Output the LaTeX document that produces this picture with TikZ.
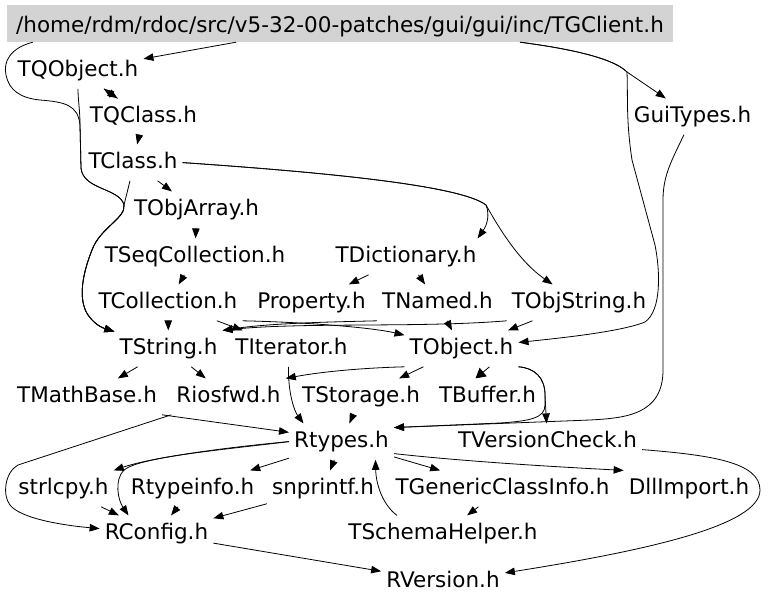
\documentclass[tikz,border=0pt]{standalone}
\usepackage{fontspec}
\setmainfont{DejaVu Sans}
\usetikzlibrary{arrows.meta}
\definecolor{rootgray}{RGB}{211,211,211}

\begin{document}
\begin{tikzpicture}[x=1pt, y=1pt,
		hfile/.style={font=\fontsize{21.5pt}{25pt}\selectfont, inner xsep=5pt, inner ysep=8pt, text height=15.5pt, text depth=4.5pt},
		dep/.style={draw, line width=0.8pt, -{Triangle[length=10pt, width=7.5pt]}}]
		\useasboundingbox (0,0) rectangle (768,-603);
		% the file itself
		\node[hfile, fill=rootgray, inner sep=0pt, minimum width=666pt, text height=27pt, text depth=10pt] (root) at(340, -23.5) {/home/rdm/rdoc/src/v5-32-00-patches/gui/gui/inc/TGClient.h};
		
		\node[hfile] (tqobject) at(78, -70.6) {TQObject.h};
		\node[hfile] (tqclass) at(143.5, -116.6) {TQClass.h};
		\node[hfile] (guitypes) at(692.5, -116.6) {GuiTypes.h};
		\node[hfile] (tclass) at(133, -162.6) {TClass.h};
		\node[hfile] (tobjarray) at(196.5, -209.6) {TObjArray.h};
		\node[hfile] (tseqcollection) at(195, -256.6) {TSeqCollection.h};
		\node[hfile] (tdictionary) at(406, -256.6) {TDictionary.h};
		\node[hfile] (tcollection) at(168, -302.6) {TCollection.h};
		\node[hfile] (property) at(311.5, -302.6) {Property.h};
		\node[hfile] (tnamed) at(437.5, -302.6) {TNamed.h};
		\node[hfile] (tobjstring) at(579, -302.6) {TObjString.h};
		\node[hfile] (tstring) at(168.5, -348.6) {TString.h};
		\node[hfile] (titerator) at(291.5, -348.6) {TIterator.h};
		\node[hfile] (tobject) at(461.5, -348.6) {TObject.h};
		\node[hfile] (tmathbase) at(87, -396.6) {TMathBase.h};
		\node[hfile] (riosfwd) at(228.5, -396.6) {Riosfwd.h};
		\node[hfile] (tstorage) at(361, -396.6) {TStorage.h};
		\node[hfile] (tbuffer) at(487.5, -396.6) {TBuffer.h};
		\node[hfile] (rtypes) at(341.5, -441.6) {Rtypes.h};
		\node[hfile] (tversioncheck) at(547.5, -441.6) {TVersionCheck.h};
		\node[hfile] (strlcpy) at(63.5, -488.6) {strlcpy.h};
		\node[hfile] (rtypeinfo) at(192.5, -488.6) {Rtypeinfo.h};
		\node[hfile] (snprintf) at(323, -488.6) {snprintf.h};
		\node[hfile] (tgenericclassinfo) at(502.5, -488.6) {TGenericClassInfo.h};
		\node[hfile] (dllimport) at(689, -488.6) {DllImport.h};
		\node[hfile] (rconfig) at(156.5, -533.6) {RConfig.h};
		\node[hfile] (tschemahelper) at(443, -533.6) {TSchemaHelper.h};
		\node[hfile] (rversion) at(443, -581.6) {RVersion.h};
		
		% includes of the file itself
		\draw[dep] (root) -- (tqobject);
		\draw[dep] ([xshift=180pt]root.south) .. controls (580,-50) and (615,-60) .. (627,-72) -- (guitypes);
		\draw[dep] ([xshift=180pt]root.south) .. controls (580,-50) and (615,-60) .. (627,-72) .. controls (628,-100) and (626,-120) .. (632,-160) -- (655,-245) .. controls (660,-270) and (662,-310) .. (645,-322) .. controls (620,-332) and (560,-338) .. (tobject);
		\draw[dep] ([xshift=26pt]root.south west) .. controls (10,-48) and (3,-62) .. (6,-75) .. controls (9,-90) and (20,-98) .. (40,-100) .. controls (65,-102) and (78,-105) .. (80,-125) -- (81,-168) .. controls (83,-190) and (120,-188) .. (124,-205) .. controls (126,-218) and (100,-228) .. (92,-250) .. controls (82,-275) and (78,-300) .. (88,-315) .. controls (95,-325) and (103,-328) .. (tstring);
		
		% upper part
		\draw[dep] (tqobject) -- (tqclass);
		\draw[dep] (tqclass) -- (tqobject);
		\draw[dep] (tqobject.south) .. controls (78,-100) and (80,-110) .. (80,-125) -- (81,-168) .. controls (83,-190) and (120,-188) .. (124,-205) .. controls (126,-218) and (100,-228) .. (92,-250) .. controls (82,-275) and (78,-300) .. (88,-315) .. controls (95,-325) and (103,-328) .. (tstring);
		\draw[dep] (tqclass) -- (tclass);
		\draw[dep] (tclass) -- (tobjarray);
		\draw[dep] ([xshift=-3pt]tclass.south) -- (124,-205) .. controls (126,-218) and (100,-228) .. (92,-250) .. controls (82,-275) and (78,-300) .. (88,-315) .. controls (95,-325) and (103,-328) .. (tstring);
		\draw[dep] (tclass.east) .. controls (320,-172) and (460,-185) .. (486,-205) .. controls (490,-215) and (487,-225) .. ([xshift=-4pt]tdictionary.north east);
		\draw[dep] (tclass.east) .. controls (320,-172) and (460,-185) .. (486,-205) .. controls (500,-230) and (520,-262) .. (tobjstring);
		\draw[dep] (tobjarray) -- (tseqcollection);
		\draw[dep] (tseqcollection) -- (tcollection);
		\draw[dep] (tdictionary) -- (property);
		\draw[dep] (tdictionary) -- (tnamed);
		
		% middle part
		\draw[dep] (tcollection) -- (tstring);
		\draw[dep] (tcollection) -- (titerator);
		\draw[dep] (tcollection.south east) .. controls (300,-322) and (370,-327) .. (tobject);
		\draw[dep] (tnamed) -- (tobject);
		\draw[dep] (tnamed.south west) .. controls (330,-322) and (270,-323) .. (tstring.north east);
		\draw[dep] (tobjstring) -- (tobject);
		\draw[dep] (tobjstring.south west) .. controls (420,-328) and (300,-322) .. (tstring.north east);
		\draw[dep] (guitypes) .. controls (672,-160) and (663,-175) .. (663,-200) -- (663,-370) .. controls (663,-415) and (625,-418) .. (590,-420) -- (rtypes.15);
		\draw[dep] (tobject.south east) .. controls (535,-368) and (545,-378) .. (545,-395) -- (545,-405) .. controls (545,-418) and (530,-421) .. (500,-423) -- (rtypes.15);
		\draw[dep] (tobject.south east) .. controls (535,-368) and (545,-378) .. (545,-395) -- (tversioncheck);
		\draw[dep] (tobject) -- (tstorage);
		\draw[dep, -{Triangle[length=10pt, width=11pt]}] ([xshift=28pt]tobject.south) -- ([xshift=-12pt]tbuffer.north);
		\draw[dep] (tobject.south west) .. controls (360,-368) and (320,-372) .. (riosfwd.north east);
		\draw[dep] ([xshift=-3pt]titerator.south) .. controls (288,-395) and (295,-412) .. ([xshift=-38pt]rtypes.north);
		\draw[dep] (tstorage) -- (rtypes);
		\draw[dep] (tstring) -- (tmathbase);
		\draw[dep] (tstring) -- (riosfwd);
		\draw[dep] (tmathbase.south east) -- (rtypes.170);
		\draw[dep] (riosfwd.south west) -- (18,-465) .. controls (5,-472) and (2,-495) .. (10,-505) .. controls (20,-518) and (60,-525) .. ([yshift=5pt]rconfig.west);
		
		% lower part
		\draw[dep] (rtypes.west) .. controls (220,-448) and (150,-458) .. (strlcpy.north east);
		\draw[dep] (rtypes.west) .. controls (220,-450) and (140,-457) .. (124,-470) .. controls (114,-480) and (118,-500) .. ([xshift=-28pt]rconfig.north);
		\draw[dep] (rtypes) -- (rtypeinfo);
		\draw[dep] (rtypes) -- (snprintf);
		\draw[dep] (rtypes) -- (tgenericclassinfo);
		\draw[dep] ([yshift=-12pt]rtypes.east) .. controls (470,-462) and (560,-467) .. (dllimport.north west);
		\draw[dep] ([xshift=-46pt]tschemahelper.north) .. controls (383,-505) and (376,-485) .. ([xshift=34pt]rtypes.south);
		\draw[dep] (tgenericclassinfo) -- (tschemahelper);
		\draw[dep] (strlcpy) -- (rconfig);
		\draw[dep] (rtypeinfo) -- (rconfig);
		\draw[dep] (snprintf) -- (rconfig);
		\draw[dep] (rconfig) -- (rversion);
		\draw[dep] ([yshift=-8pt]tversioncheck.east) .. controls (710,-455) and (760,-462) .. (760,-490) .. controls (760,-525) and (650,-550) .. (rversion.8);
	\end{tikzpicture}
\end{document}
